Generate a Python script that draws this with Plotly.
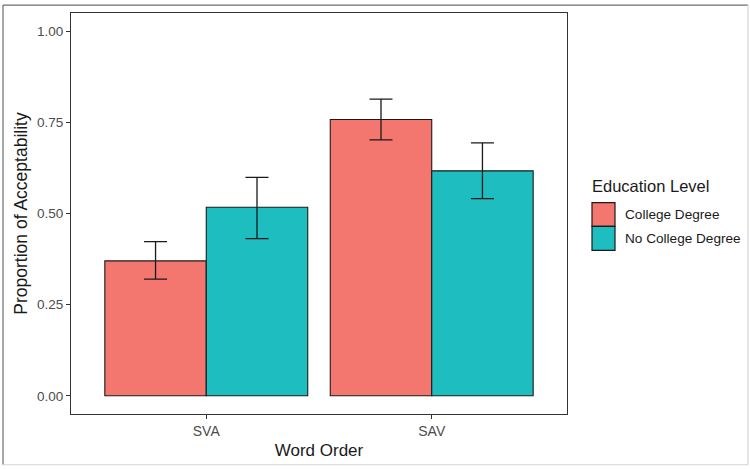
import plotly.graph_objects as go

# ---- data ----
word_order = ["SVA", "SAV"]
groups = ["College Degree", "No College Degree"]
college_mean = [0.370, 0.758]
college_upper = [0.423, 0.814]
college_lower = [0.320, 0.702]
nocollege_mean = [0.517, 0.617]
nocollege_upper = [0.599, 0.694]
nocollege_lower = [0.431, 0.541]
y_ticks = [0.0, 0.25, 0.5, 0.75, 1.0]
y_tick_labels = ["0.00", "0.25", "0.50", "0.75", "1.00"]

colors = ["#F3776F", "#1DBDC0"]
FONT = "Arial, Liberation Sans, sans-serif"

fig = go.Figure()
series = [
    (college_mean, college_upper, college_lower),
    (nocollege_mean, nocollege_upper, nocollege_lower),
]
for name, color, (m, up, lo) in zip(groups, colors, series):
    fig.add_trace(go.Bar(
        x=word_order, y=m, name=name,
        marker=dict(color=color, line=dict(color="#1a1a1a", width=1.1)),
        error_y=dict(type="data", symmetric=False,
                     array=[u - v for u, v in zip(up, m)],
                     arrayminus=[v - l for v, l in zip(m, lo)],
                     color="#1a1a1a", thickness=1.3, width=11.5),
        showlegend=False,
    ))

W, H = 750, 469
L, R, T, B = 71, 183, 13, 53
pw, ph = W - L - R, H - T - B

def px(x):
    return (x - L) / pw

def py(y):
    return (H - B - y) / ph

shapes = []
annotations = []
# outer frame of the picture (darker top/left, light bottom/right)
frame = [
    ((3, 5), (748, 5), "#6e6e6e"),
    ((3, 5), (3, 467), "#6e6e6e"),
    ((3, 467), (748, 467), "#d4d4d4"),
    ((748, 5), (748, 467), "#d4d4d4"),
]
for (xa, ya), (xb, yb), c in frame:
    shapes.append(dict(type="line", xref="paper", yref="paper",
                       x0=px(xa), y0=py(ya), x1=px(xb), y1=py(yb),
                       line=dict(color=c, width=1.2), layer="below"))
# manual legend
annotations.append(dict(xref="paper", yref="paper", x=px(590), y=py(187),
                        text="Education Level", showarrow=False,
                        xanchor="left", yanchor="middle",
                        font=dict(family=FONT, size=16.5, color="#1a1a1a")))
key_top = 203.5
key_h = 24
for i, (name, color) in enumerate(zip(groups, colors)):
    y0 = key_top + i * key_h
    shapes.append(dict(type="rect", xref="paper", yref="paper",
                       x0=px(592), x1=px(615), y0=py(y0 + key_h), y1=py(y0),
                       fillcolor=color, line=dict(color="#1a1a1a", width=1.2)))
    annotations.append(dict(xref="paper", yref="paper", x=px(623),
                            y=py(y0 + key_h / 2), text=name, showarrow=False,
                            xanchor="left", yanchor="middle",
                            font=dict(family=FONT, size=13.6, color="#1a1a1a")))

fig.update_layout(
    width=W, height=H,
    margin=dict(l=L, r=R, t=T, b=B),
    paper_bgcolor="white", plot_bgcolor="white",
    barmode="group", bargap=0.1, bargroupgap=0,
    font=dict(family=FONT),
    shapes=shapes, annotations=annotations,
)
fig.update_xaxes(
    range=[-0.6, 1.6], showgrid=False, zeroline=False,
    showline=True, mirror=True, linecolor="#333333", linewidth=1,
    ticks="outside", ticklen=4, tickcolor="#333333",
    tickfont=dict(family=FONT, size=14, color="#4d4d4d"),
    title=dict(text="Word Order", font=dict(family=FONT, size=17, color="#1a1a1a"),
               standoff=6),
)
fig.update_yaxes(
    range=[-0.05, 1.05], showgrid=False, zeroline=False,
    showline=True, mirror=True, linecolor="#333333", linewidth=1,
    ticks="outside", ticklen=4, tickcolor="#333333",
    tickvals=y_ticks, ticktext=y_tick_labels,
    tickfont=dict(family=FONT, size=13.5, color="#4d4d4d"),
    title=dict(text="Proportion of Acceptability",
               font=dict(family=FONT, size=17.5, color="#1a1a1a"), standoff=4),
)

fig.write_html("out.html", config={"displayModeBar": False},
               post_script="document.body.style.margin='0px';document.body.style.overflow='hidden';")
